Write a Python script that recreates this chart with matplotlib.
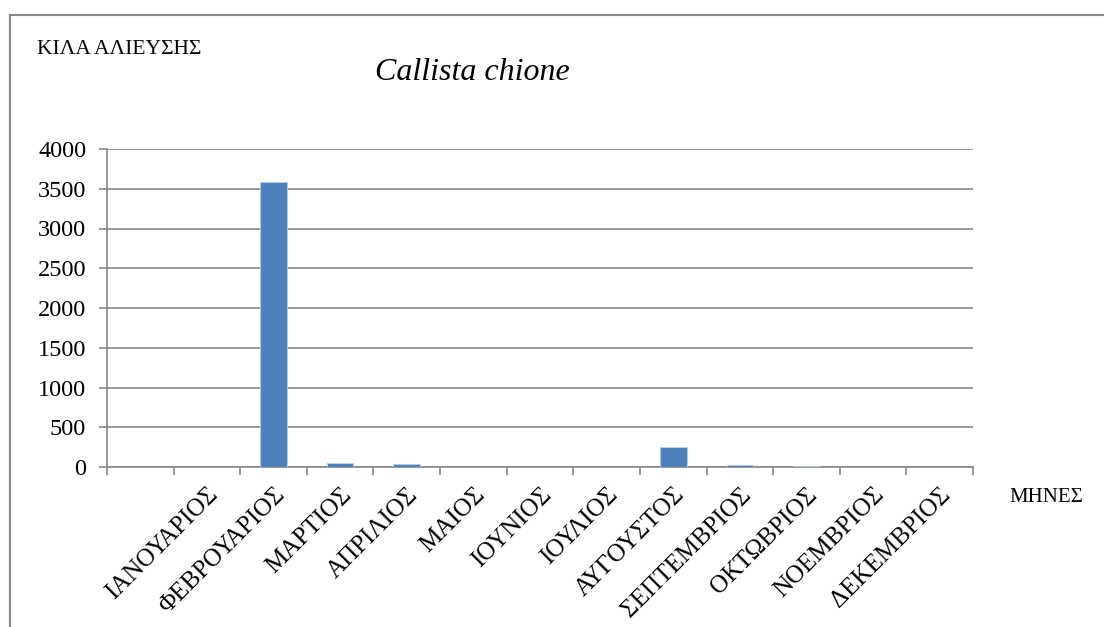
import matplotlib
matplotlib.use("Agg")
import matplotlib.pyplot as plt
from matplotlib.lines import Line2D
import numpy as np

plt.rcParams['font.family'] = ['Liberation Serif', 'DejaVu Serif']

months = ["", "ΙΑΝΟΥΑΡΙΟΣ", "ΦΕΒΡΟΥΑΡΙΟΣ", "ΜΑΡΤΙΟΣ", "ΑΠΡΙΛΙΟΣ", "ΜΑΙΟΣ",
          "ΙΟΥΝΙΟΣ", "ΙΟΥΛΙΟΣ", "ΑΥΓΟΥΣΤΟΣ", "ΣΕΠΤΕΜΒΡΙΟΣ", "ΟΚΤΩΒΡΙΟΣ",
          "ΝΟΕΜΒΡΙΟΣ", "ΔΕΚΕΜΒΡΙΟΣ"]
kilos = [0, 0, 3590, 55, 40, 0, 0, 0, 255, 25, 10, 0, 0]
yticks = [0, 500, 1000, 1500, 2000, 2500, 3000, 3500, 4000]

W, H = 1104, 627
fig = plt.figure(figsize=(W/100, H/100), dpi=100)
ax = fig.add_axes([107/W, 1-467/H, (973-107)/W, (467-149)/H])

x = np.arange(len(months))
ax.bar(x, kilos, width=0.4, color='#4F81BD', edgecolor='#B9CDE5', linewidth=0.6, zorder=3)

ax.set_xlim(-0.5, len(months)-0.5)
ax.set_ylim(0, 4000)
ax.set_yticks(yticks)
ax.yaxis.grid(True, color='#888888', linewidth=1.2, zorder=0)
ax.set_axisbelow(True)

ax.set_xticks(x)
ax.set_xticklabels(months, rotation=45, ha='right', va='top', rotation_mode='anchor', fontsize=18)
ax.set_xticks(np.arange(len(months)+1)-0.5, minor=True)
ax.tick_params(axis='x', which='major', length=0, pad=12)
ax.tick_params(axis='x', which='minor', length=6, width=1.2, color='#888888', direction='out')
ax.tick_params(axis='y', length=6, width=1.2, color='#888888', labelsize=17.5, pad=9)

for s in ['top', 'right']:
    ax.spines[s].set_visible(False)
for s in ['left', 'bottom']:
    ax.spines[s].set_color('#888888')
    ax.spines[s].set_linewidth(1.2)

fig.text(37/W, 1-50/H, "ΚΙΛΑ ΑΛΙΕΥΣΗΣ", fontsize=15.5, va='center', ha='left')
fig.text(375/W, 1-72/H, "Callista chione", fontsize=23, style='italic', va='center', ha='left')
fig.text(1009/W, 1-497/H, "ΜΗΝΕΣ", fontsize=15, va='center', ha='left')

fig.add_artist(Line2D([10/W, 10/W], [1-15/H, 0], transform=fig.transFigure, color='#888888', linewidth=1.5))
fig.add_artist(Line2D([10/W, 1], [1-15/H, 1-15/H], transform=fig.transFigure, color='#888888', linewidth=1.5))

fig.savefig("out.png", dpi=100)
